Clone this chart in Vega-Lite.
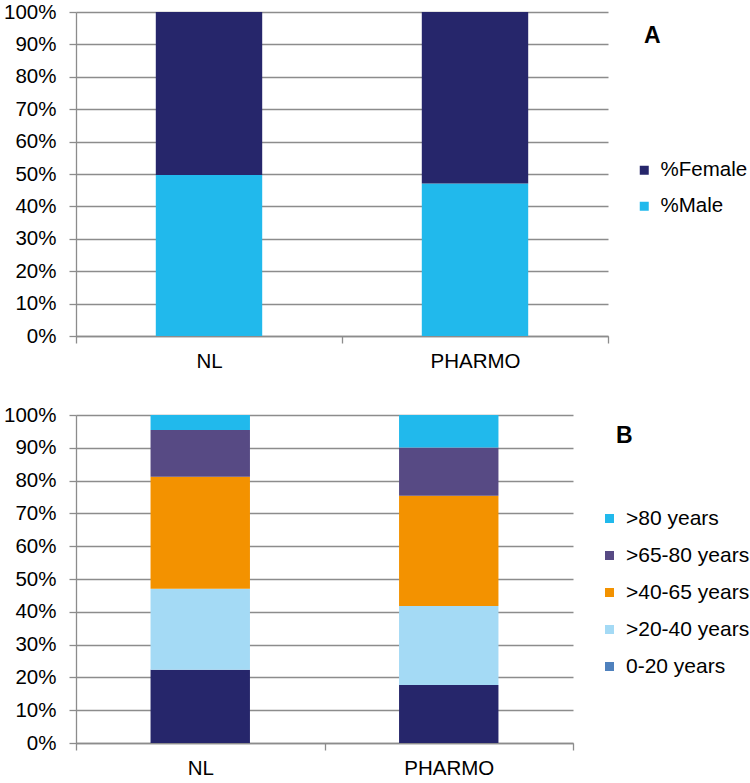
{
  "$schema": "https://vega.github.io/schema/vega-lite/v6.json",
  "padding": {"left": 3, "top": 2, "right": 0, "bottom": 0},
  "background": "white",
  "bounds": "flush",
  "spacing": 79,
  "resolve": {"scale": {"color": "independent"}, "legend": {"color": "independent"}},
  "config": {
    "view": {"stroke": null},
    "font": "Liberation Sans",
    "axis": {
      "labelFont": "Liberation Sans",
      "labelFontSize": 20.5,
      "labelColor": "#000000",
      "domainColor": "#8C8C8C",
      "tickColor": "#8C8C8C",
      "gridColor": "#8C8C8C",
      "domainWidth": 1.3,
      "tickWidth": 1.3,
      "gridWidth": 1.3,
      "title": null
    },
    "legend": {
      "labelFont": "Liberation Sans",
      "labelFontSize": 21,
      "labelColor": "#000000",
      "titleFont": "Liberation Sans",
      "titleFontSize": 23,
      "titleFontWeight": "bold",
      "titleColor": "#000000",
      "symbolType": "square",
      "symbolSize": 81,
      "symbolStrokeWidth": 0,
      "symbolOpacity": 1,
      "padding": 0,
      "labelOffset": 6,
      "rowPadding": 15
    }
  },
  "vconcat": [
    {
      "width": 532,
      "height": 324,
      "data": {
        "values": [
          {"source": "NL", "sex": "%Male", "rank": 1, "value": 0.497},
          {"source": "NL", "sex": "%Female", "rank": 2, "value": 0.503},
          {"source": "PHARMO", "sex": "%Male", "rank": 1, "value": 0.471},
          {"source": "PHARMO", "sex": "%Female", "rank": 2, "value": 0.529}
        ]
      },
      "mark": {"type": "bar", "width": {"band": 0.4}},
      "encoding": {
        "x": {
          "field": "source", "type": "nominal", "sort": ["NL", "PHARMO"],
          "scale": {"paddingInner": 0, "paddingOuter": 0},
          "axis": {"labelAngle": 0, "tickBand": "extent", "tickSize": 7, "labelPadding": 8, "grid": false}
        },
        "y": {
          "field": "value", "type": "quantitative", "stack": "zero",
          "scale": {"domain": [0, 1]},
          "axis": {"format": ".0%", "values": [0, 0.1, 0.2, 0.3, 0.4, 0.5, 0.6, 0.7, 0.8, 0.9, 1], "tickSize": 7, "labelPadding": 13, "grid": true, "domain": true}
        },
        "color": {
          "field": "sex", "type": "nominal",
          "scale": {"domain": ["%Female", "%Male"], "range": ["#26266B", "#21B9EC"]},
          "legend": {"orient": "none", "legendX": 568, "legendY": 13, "title": "A", "titlePadding": 112, "symbolOffset": -10, "labelFontSize": 20.5}
        },
        "order": {"field": "rank", "type": "quantitative"}
      }
    },
    {
      "width": 497,
      "height": 328,
      "data": {
        "values": [
          {"source": "NL", "age": "0-20 years", "rank": 1, "value": 0.223},
          {"source": "NL", "age": ">20-40 years", "rank": 2, "value": 0.247},
          {"source": "NL", "age": ">40-65 years", "rank": 3, "value": 0.342},
          {"source": "NL", "age": ">65-80 years", "rank": 4, "value": 0.142},
          {"source": "NL", "age": ">80 years", "rank": 5, "value": 0.046},
          {"source": "PHARMO", "age": "0-20 years", "rank": 1, "value": 0.177},
          {"source": "PHARMO", "age": ">20-40 years", "rank": 2, "value": 0.241},
          {"source": "PHARMO", "age": ">40-65 years", "rank": 3, "value": 0.336},
          {"source": "PHARMO", "age": ">65-80 years", "rank": 4, "value": 0.147},
          {"source": "PHARMO", "age": ">80 years", "rank": 5, "value": 0.099}
        ]
      },
      "mark": {"type": "bar", "width": {"band": 0.4}},
      "encoding": {
        "x": {
          "field": "source", "type": "nominal", "sort": ["NL", "PHARMO"],
          "scale": {"paddingInner": 0, "paddingOuter": 0},
          "axis": {"labelAngle": 0, "tickBand": "extent", "tickSize": 7, "labelPadding": 8, "grid": false}
        },
        "y": {
          "field": "value", "type": "quantitative", "stack": "zero",
          "scale": {"domain": [0, 1]},
          "axis": {"format": ".0%", "values": [0, 0.1, 0.2, 0.3, 0.4, 0.5, 0.6, 0.7, 0.8, 0.9, 1], "tickSize": 7, "labelPadding": 13, "grid": true, "domain": true}
        },
        "color": {
          "condition": {"test": "datum.age === '0-20 years'", "value": "#26266B"},
          "field": "age", "type": "nominal",
          "scale": {
            "domain": [">80 years", ">65-80 years", ">40-65 years", ">20-40 years", "0-20 years"],
            "range": ["#21B9EC", "#574A84", "#F39200", "#A4DAF5", "#4F81BD"]
          },
          "legend": {"orient": "none", "legendX": 540, "legendY": 10, "title": "B", "titlePadding": 60, "symbolOffset": -17}
        },
        "order": {"field": "rank", "type": "quantitative"}
      }
    }
  ]
}
